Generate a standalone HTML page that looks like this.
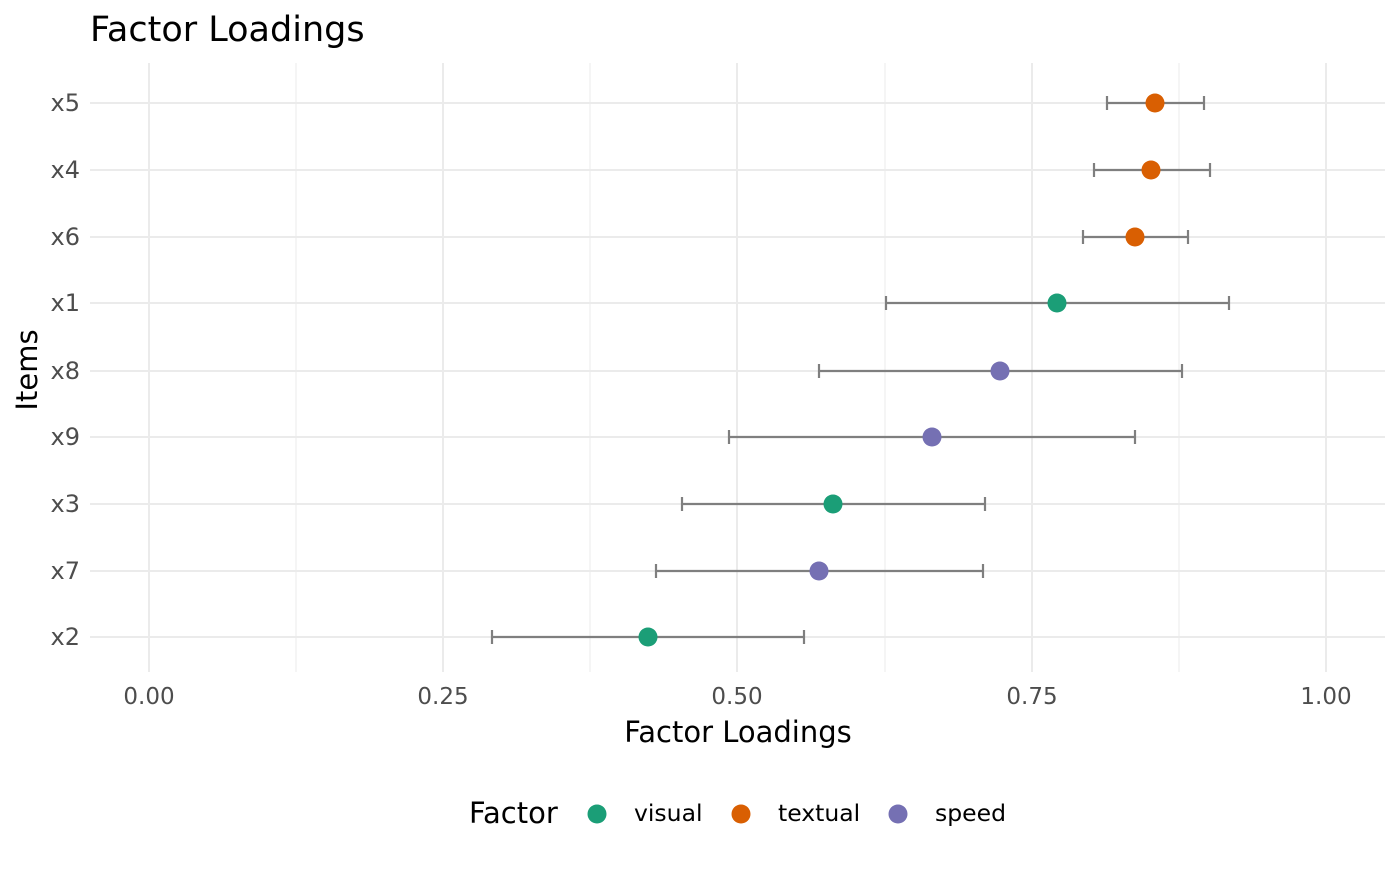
<!DOCTYPE html>
<html><head><meta charset="utf-8"><style>html,body{margin:0;padding:0;background:#fff}</style></head>
<body>
<svg width="1400" height="866" xmlns="http://www.w3.org/2000/svg" font-family="DejaVu Sans, Liberation Sans, sans-serif">
<rect width="1400" height="866" fill="#fff"/>
<g stroke="#ebebeb" stroke-width="1">
<line x1="296" y1="63" x2="296" y2="672"/><line x1="590" y1="63" x2="590" y2="672"/><line x1="885" y1="63" x2="885" y2="672"/><line x1="1179" y1="63" x2="1179" y2="672"/>
</g>
<g stroke="#ebebeb" stroke-width="2">
<line x1="149" y1="63" x2="149" y2="672"/><line x1="443" y1="63" x2="443" y2="672"/><line x1="737" y1="63" x2="737" y2="672"/><line x1="1032" y1="63" x2="1032" y2="672"/><line x1="1326" y1="63" x2="1326" y2="672"/>
<line x1="90" y1="103" x2="1385" y2="103"/><line x1="90" y1="170" x2="1385" y2="170"/><line x1="90" y1="237" x2="1385" y2="237"/><line x1="90" y1="303" x2="1385" y2="303"/><line x1="90" y1="371" x2="1385" y2="371"/><line x1="90" y1="437" x2="1385" y2="437"/><line x1="90" y1="504" x2="1385" y2="504"/><line x1="90" y1="571" x2="1385" y2="571"/><line x1="90" y1="637" x2="1385" y2="637"/>
</g>
<g stroke="#7f7f7f" stroke-width="2.2" fill="none">
<path d="M1107 103H1204M1107 96V110M1204 96V110"/>
<path d="M1094 170H1210M1094 163V177M1210 163V177"/>
<path d="M1083 237H1188M1083 230V244M1188 230V244"/>
<path d="M886 303H1229M886 296V310M1229 296V310"/>
<path d="M819 371H1182M819 364V378M1182 364V378"/>
<path d="M729 437H1135M729 430V444M1135 430V444"/>
<path d="M682 504H985M682 497V511M985 497V511"/>
<path d="M656 571H983M656 564V578M983 564V578"/>
<path d="M492 637H804M492 630V644M804 630V644"/>
</g>
<g>
<circle cx="1155" cy="103" r="9.5" fill="#D95F02"/>
<circle cx="1151" cy="170" r="9.5" fill="#D95F02"/>
<circle cx="1135" cy="237" r="9.5" fill="#D95F02"/>
<circle cx="1057" cy="303" r="9.5" fill="#1B9E77"/>
<circle cx="1000" cy="371" r="9.5" fill="#7570B3"/>
<circle cx="932" cy="437" r="9.5" fill="#7570B3"/>
<circle cx="833" cy="504" r="9.5" fill="#1B9E77"/>
<circle cx="819" cy="571" r="9.5" fill="#7570B3"/>
<circle cx="648" cy="637" r="9.5" fill="#1B9E77"/>
</g>
<g font-size="24" fill="#4d4d4d" text-anchor="end">
<text x="80" y="111">x5</text><text x="80" y="178">x4</text><text x="80" y="245">x6</text><text x="80" y="311">x1</text><text x="80" y="379">x8</text><text x="80" y="445">x9</text><text x="80" y="512">x3</text><text x="80" y="579">x7</text><text x="80" y="645">x2</text>
</g>
<g font-size="23" fill="#4d4d4d" text-anchor="middle">
<text x="149" y="704">0.00</text><text x="443" y="704">0.25</text><text x="737" y="704">0.50</text><text x="1032" y="704">0.75</text><text x="1326" y="704">1.00</text>
</g>
<text x="738" y="742" font-size="29" text-anchor="middle" fill="#000">Factor Loadings</text>
<text x="37" y="370" font-size="29" text-anchor="middle" fill="#000" transform="rotate(-90 37 370)">Items</text>
<text x="90" y="41" font-size="35" fill="#000">Factor Loadings</text>
<text x="469" y="823" font-size="29" fill="#000">Factor</text>
<circle cx="597" cy="814" r="9.5" fill="#1B9E77"/><text x="634" y="821" font-size="23.5" fill="#000">visual</text>
<circle cx="741" cy="814" r="9.5" fill="#D95F02"/><text x="778" y="821" font-size="23.5" fill="#000">textual</text>
<circle cx="898" cy="814" r="9.5" fill="#7570B3"/><text x="935" y="821" font-size="23.5" fill="#000">speed</text>
</svg>
</body></html>
